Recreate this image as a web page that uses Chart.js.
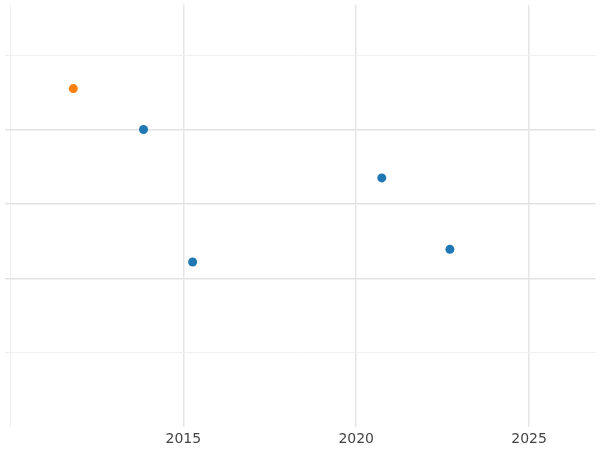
<!DOCTYPE html>
<html>
<head>
<meta charset="UTF-8">
<style>
  html, body { margin: 0; padding: 0; background: #fff; }
  #wrap { width: 600px; height: 450px; }
</style>
<script src="https://cdn.jsdelivr.net/npm/chart.js@4.4.0/dist/chart.umd.min.js"></script>
</head>
<body>
<div id="wrap"><canvas id="c"></canvas></div>
<script>
// ── Data ──────────────────────────────────────────────
const blueX = [2013.85, 2015.27, 2020.74, 2022.71];
const blueY = [4.0, 2.22, 3.35, 2.39];
const orangeX = [2011.82];
const orangeY = [4.55];
const xTicks = [2010, 2015, 2020, 2025];

const toPts = (xs, ys) => xs.map((x, i) => ({ x, y: ys[i] }));

new Chart(document.getElementById("c"), {
  type: "scatter",
  data: {
    datasets: [
      { data: toPts(blueX, blueY), backgroundColor: "#1f77b4", borderWidth: 0, pointRadius: 4.5 },
      { data: toPts(orangeX, orangeY), backgroundColor: "#ff7f0e", borderWidth: 0, pointRadius: 4.5 }
    ]
  },
  options: {
    responsive: true,
    maintainAspectRatio: false,
    animation: false,
    layout: { padding: { left: -4, right: -4, top: -4, bottom: -2 } },
    plugins: { legend: { display: false }, tooltip: { enabled: false } },
    scales: {
      x: {
        type: "linear",
        min: 2009.83, max: 2026.92,
        afterBuildTicks: (s) => { s.ticks = xTicks.map((v) => ({ value: v })); },
        ticks: {
          color: "#444", font: { family: "DejaVu Sans", size: 14 },
          callback: (v) => (v === 2010 ? "" : String(v)),
          maxRotation: 0, padding: 4
        },
        border: { display: false },
        grid: {
          color: (c) => (c.tick && c.tick.value === 2010 ? "#f0f0f0" : "#e6e6e6"),
          lineWidth: (c) => (c.tick && c.tick.value === 2010 ? 1 : 1.5),
          drawTicks: false
        }
      },
      y: {
        min: 0, max: 5.68,
        afterBuildTicks: (s) => { s.ticks = [1, 2, 3, 4, 5].map((v) => ({ value: v })); },
        ticks: { display: false },
        border: { display: false },
        grid: {
          color: (c) => (c.tick && (c.tick.value === 1 || c.tick.value === 5) ? "#f0f0f0" : "#e3e3e3"),
          lineWidth: (c) => (c.tick && (c.tick.value === 1 || c.tick.value === 5) ? 1 : 1.5),
          drawTicks: false
        }
      }
    }
  }
});
</script>
</body>
</html>
